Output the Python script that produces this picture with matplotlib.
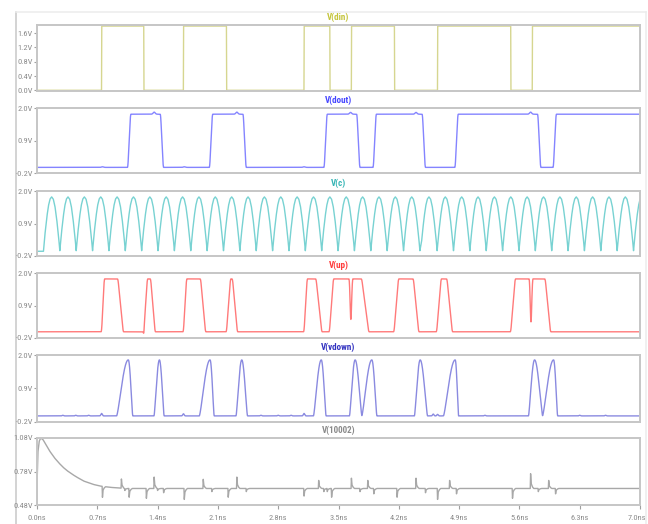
import numpy as np
import matplotlib
matplotlib.use("Agg")
import matplotlib.pyplot as plt
import matplotlib.transforms as mtransforms
from matplotlib.lines import Line2D
from matplotlib import font_manager

# ---------------- data ----------------
x_ticks = [0.0, 0.7, 1.4, 2.1, 2.8, 3.5, 4.2, 4.9, 5.6, 6.3, 7.0]
x_tick_labels = ["0.0ns", "0.7ns", "1.4ns", "2.1ns", "2.8ns", "3.5ns",
                 "4.2ns", "4.9ns", "5.6ns", "6.3ns", "7.0ns"]

titles = ["V(din)", "V(dout)", "V(c)", "V(up)", "V(vdown)", "V(10002)"]

# V(din): edge times (starts low)
din_edges = [0.75, 1.24, 1.70, 2.20, 3.10, 3.40, 3.65, 4.15, 4.65, 5.50, 5.75]
din_levels = [0.0, 1.8]
din_ticks = [0.0, 0.4, 0.8, 1.2, 1.6]
din_tick_labels = ["0.0V", "0.4V", "0.8V", "1.2V", "1.6V"]

# V(dout): edge times (starts low), small glitches (time, height)
dout_edges = [1.07, 1.45, 2.02, 2.41, 3.35, 3.73, 3.92, 4.49, 4.87, 5.83, 6.01]
dout_levels = [-0.01, 1.79]
dout_bumps = [(1.36, 0.07), (2.32, 0.07), (3.64, 0.06), (4.40, 0.06), (5.73, 0.07),
              (0.76, 0.02), (1.71, 0.02), (3.10, 0.02)]

# V(c): clock peak times
clk_peaks = [0.17, 0.36, 0.55, 0.74, 0.93, 1.12, 1.31, 1.50, 1.69, 1.88,
             2.07, 2.26, 2.45, 2.64, 2.83, 3.02, 3.21, 3.40, 3.59, 3.78,
             3.97, 4.16, 4.35, 4.55, 4.74, 4.93, 5.12, 5.31, 5.50, 5.69,
             5.88, 6.07, 6.26, 6.45, 6.64, 6.83, 7.02]
clk_high, clk_low, clk_start_level = 1.80, -0.02, -0.04
# one cycle, trough -> peak -> trough (phase fraction, level fraction)
clk_shape_phase = [0.0, 0.05, 0.1, 0.2, 0.3, 0.4, 0.5, 0.6, 0.7, 0.8, 0.9, 0.95, 1.0]
clk_shape_level = [0.0, 0.17, 0.33, 0.61, 0.83, 0.96, 1.0, 0.96, 0.83, 0.61, 0.33, 0.17, 0.0]

mid_ticks = [-0.2, 0.9, 2.0]
mid_tick_labels = ["-0.2V", "0.9V", "2.0V"]

# V(up): pulses (rise start, rise end, fall start, fall end)
up_pulses = [(0.75, 0.78, 0.94, 1.00),
             (1.24, 1.28, 1.32, 1.37),
             (1.70, 1.735, 1.90, 1.955),
             (2.20, 2.245, 2.27, 2.325),
             (3.10, 3.135, 3.24, 3.305),
             (3.395, 3.44, 3.77, 3.85),
             (4.145, 4.195, 4.37, 4.43),
             (4.64, 4.69, 4.76, 4.82),
             (5.50, 5.55, 5.90, 5.96)]
up_notches = [(3.643, 0.12), (5.734, 0.02)]
up_levels = [0.01, 1.80]
up_dips = [(1.24, -0.08)]

# V(vdown): pulses (start, peak, end)
vdown_pulses = [(0.925, 1.060, 1.111),
                (1.359, 1.421, 1.475),
                (1.885, 2.009, 2.056),
                (2.311, 2.377, 2.443),
                (3.210, 3.300, 3.355),
                (3.628, 3.693, 3.771),
                (3.771, 3.887, 3.945),
                (4.382, 4.448, 4.533),
                (4.719, 4.855, 4.893),
                (5.706, 5.776, 5.869),
                (5.869, 5.997, 6.043)]
vdown_levels = [0.0, 1.84]
vdown_bumps = [(0.75, 0.08), (1.70, 0.07), (3.10, 0.08), (4.60, 0.06), (4.65, 0.05),
               (0.30, 0.02), (0.45, 0.02), (0.60, 0.02), (2.60, 0.02), (2.80, 0.02),
               (2.95, 0.02), (5.2, 0.02), (6.3, 0.02), (6.6, 0.02)]

# V(10002): start-up transient points, then baseline with spikes (time, peak)
n_start_t = [0.0, 0.002, 0.01, 0.025, 0.043, 0.07, 0.10, 0.15, 0.20, 0.25, 0.30,
             0.345, 0.40, 0.45, 0.54, 0.65, 0.73, 0.85, 1.0]
n_start_v = [0.48, 0.70, 0.95, 1.05, 1.08, 1.065, 1.025, 0.96, 0.905, 0.86, 0.82,
             0.79, 0.76, 0.735, 0.695, 0.665, 0.650, 0.638, 0.630]
n_base = 0.628
n_spikes = [(0.76, 0.53), (0.98, 0.71), (1.02, 0.61), (1.07, 0.55),
            (1.27, 0.54), (1.36, 0.73), (1.40, 0.61), (1.47, 0.59),
            (1.71, 0.53), (1.93, 0.71), (2.03, 0.60),
            (2.22, 0.55), (2.32, 0.73), (2.43, 0.60),
            (3.10, 0.56), (3.27, 0.70), (3.33, 0.60), (3.37, 0.60),
            (3.42, 0.55), (3.65, 0.72), (3.75, 0.60), (3.84, 0.70), (3.91, 0.58),
            (4.18, 0.55), (4.40, 0.72), (4.51, 0.59),
            (4.65, 0.53), (4.79, 0.70), (4.87, 0.58),
            (5.52, 0.54), (5.73, 0.76), (5.82, 0.60), (5.94, 0.70), (6.02, 0.58)]
n_ticks = [0.48, 0.78, 1.08]
n_tick_labels = ["0.48V", "0.78V", "1.08V"]

# ---------------- styles ----------------
title_colors = ["#c4c43a", "#4646ff", "#35b5b5", "#ff3a3a", "#3232c0", "#8a8a8a"]
line_colors = ["#d6d690", "#8484ff", "#78d2d2", "#ff7a7a", "#8a8ae0", "#a8a8a8"]
panel_px = [(25, 91), (108, 173), (191, 256), (273, 338), (355, 422), (438, 505)]
W, H = 648, 524
LEFT, RIGHT = 37, 640

names = {f.name for f in font_manager.fontManager.ttflist}
narrow = None
for cand in ["Liberation Sans Narrow", "DejaVu Sans Condensed", "Roboto Condensed",
             "Open Sans Condensed", "Liberation Sans"]:
    if cand in names:
        narrow = cand
        break
fam = [narrow, "DejaVu Sans"] if narrow else ["DejaVu Sans"]
plt.rcParams['font.family'] = fam

t = np.linspace(0.0, 7.0, 14001)


def smooth(v, n):
    if n <= 1:
        return v
    k = np.ones(n) / n
    vp = np.concatenate([np.full(n, v[0]), v, np.full(n, v[-1])])
    return np.convolve(vp, k, mode="same")[n:-n]


def edge_vertices(edges, lo, hi, ramp):
    ts, vs = [0.0], [lo]
    level = lo
    for e in edges:
        new = hi if level == lo else lo
        ts += [e - ramp / 2, e + ramp / 2]
        vs += [level, new]
        level = new
    ts.append(7.0)
    vs.append(level)
    return ts, vs


def bump(tc, h, w=0.012):
    return h * np.exp(-0.5 * ((t - tc) / w) ** 2)


# din
ts, vs = edge_vertices(din_edges, din_levels[0], din_levels[1], 0.002)
din = np.interp(t, ts, vs)

# dout
ts, vs = edge_vertices(dout_edges, dout_levels[0], dout_levels[1], 0.03)
dout = smooth(np.interp(t, ts, vs), 21)
for tc, h in dout_bumps:
    dout = dout + bump(tc, h)

# clock
ct = [0.0]
cv = [clk_start_level]
period_half = (clk_peaks[1] - clk_peaks[0]) / 2
first_trough = clk_peaks[0] - period_half
ct.append(first_trough)
cv.append(clk_start_level)
for i, pk in enumerate(clk_peaks):
    tr0 = pk - period_half
    tr1 = pk + period_half
    for ph, lv in zip(clk_shape_phase[1:], clk_shape_level[1:]):
        ct.append(tr0 + ph * (tr1 - tr0))
        cv.append(clk_low + lv * (clk_high - clk_low))
clk = np.interp(t, ct, cv)

# up
ut, uv = [0.0], [up_levels[0]]
for r0, r1, f0, f1 in up_pulses:
    seg = [(r0, up_levels[0]), (r1, up_levels[1])]
    for nt, nl in up_notches:
        if r1 < nt < f0:
            seg += [(nt - 0.016, up_levels[1]), (nt, nl), (nt + 0.018, up_levels[1])]
    seg += [(f0, up_levels[1]), (f1, up_levels[0])]
    for a, b in seg:
        ut.append(a)
        uv.append(b)
ut.append(7.0)
uv.append(up_levels[0])
up = smooth(np.interp(t, ut, uv), 25)
for tc, d in up_dips:
    up = up + bump(tc, d - up_levels[0], 0.004)

# vdown
vd = np.full_like(t, vdown_levels[0])
for s, p, e in vdown_pulses:
    amp = vdown_levels[1] - vdown_levels[0]
    m = (t >= s) & (t <= p)
    fr = (t[m] - s) / (p - s)
    vd[m] = np.maximum(vd[m], vdown_levels[0] + amp * np.sin(0.5 * np.pi * fr) ** 1.3)
    m = (t > p) & (t <= e)
    fr = (t[m] - p) / (e - p)
    vd[m] = np.maximum(vd[m], vdown_levels[0] + amp * np.cos(0.5 * np.pi * fr) ** 1.3)
vd = smooth(vd, 9)
for tc, h in vdown_bumps:
    vd = vd + bump(tc, h, 0.008)

# 10002
nv = np.where(t <= n_start_t[-1], np.interp(t, n_start_t, n_start_v), n_base)
for tc, pk in n_spikes:
    d = pk - n_base
    prof = np.interp(t, [tc - 0.004, tc, tc + 0.006, tc + 0.02, tc + 0.035],
                     [0.0, 1.0, 0.35, 0.12, 0.0])
    nv = nv + d * prof

signals = [din, dout, clk, up, vd, nv]
ylims = [(-0.02, 1.83), (-0.2, 2.0), (-0.2, 2.0), (-0.2, 2.0), (-0.2, 2.0), (0.48, 1.08)]
yticks = [din_ticks, mid_ticks, mid_ticks, mid_ticks, mid_ticks, n_ticks]
ytl = [din_tick_labels, mid_tick_labels, mid_tick_labels, mid_tick_labels, mid_tick_labels,
       n_tick_labels]

fig = plt.figure(figsize=(W / 100, H / 100), dpi=100)
fig.patch.set_facecolor("white")

# outer window frame (behind everything)
for xs, ys, c in [([16 / W, 16 / W], [0, 1 - 12 / H], "#c8c8c8"),
                  ([16 / W, 646 / W], [1 - 12 / H, 1 - 12 / H], "#ececec"),
                  ([646 / W, 646 / W], [0, 1 - 12 / H], "#ececec")]:
    ln = Line2D(xs, ys, color=c, lw=1.1, zorder=-5)
    fig.add_artist(ln)

for i, (top, bot) in enumerate(panel_px):
    ax = fig.add_axes([LEFT / W, 1 - bot / H, (RIGHT - LEFT) / W, (bot - top) / H])
    ax.patch.set_alpha(0.0)
    ax.plot(t, signals[i], color=line_colors[i], lw=1.0, clip_on=True)
    ax.set_xlim(0, 7.0)
    ax.set_ylim(*ylims[i])
    for sp in ax.spines.values():
        sp.set_color("#c6c6c6")
        sp.set_linewidth(1.4)
    ax.set_yticks(yticks[i])
    ax.set_yticklabels(ytl[i])
    ax.tick_params(axis="y", direction="out", length=2.5, width=0.8, color="#a0a0a0",
                   labelsize=6, labelcolor="#8c8c8c", pad=0.5)
    if i == len(panel_px) - 1:
        ax.set_xticks(x_ticks)
        ax.set_xticklabels(x_tick_labels)
        ax.tick_params(axis="x", direction="out", length=3, width=0.8, color="#a0a0a0",
                       labelsize=6, labelcolor="#8c8c8c", pad=4)
        last = ax.get_xticklabels()[-1]
        last.set_transform(last.get_transform() +
                           mtransforms.ScaledTranslation(-3 / 100, 0, fig.dpi_scale_trans))
    else:
        ax.set_xticks([])
    ax.text(0.5, 1.0 + 8 / (bot - top), titles[i], transform=ax.transAxes,
            ha="center", va="center", fontsize=6.5, fontweight="bold",
            color=title_colors[i])

fig.savefig("out.png", dpi=100, facecolor="white")
